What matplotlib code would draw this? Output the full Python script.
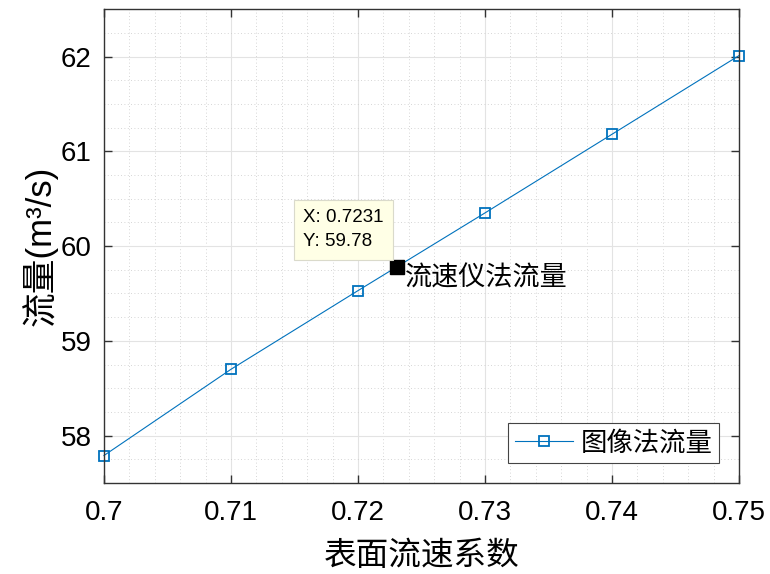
import numpy as np
import matplotlib
matplotlib.use("Agg")
import matplotlib.pyplot as plt
from matplotlib.ticker import MultipleLocator

plt.rcParams['font.family'] = ['Liberation Sans', 'Noto Sans CJK SC', 'DejaVu Sans']

# surface velocity coefficient vs. image-method discharge
coef = [0.70, 0.71, 0.72, 0.73, 0.74, 0.75]
flow = [57.79, 58.70, 59.53, 60.35, 61.18, 62.01]
xtick_labels = ['0.7', '0.71', '0.72', '0.73', '0.74', '0.75']

# current-meter discharge (data tip)
meter_x = 0.7231
meter_y = 59.78

CJK = ['Noto Sans CJK SC', 'DejaVu Sans']

fig = plt.figure(figsize=(7.7, 5.74), dpi=100)
ax = fig.add_axes([0.135, 0.1585, 0.8247, 0.8255])

ax.plot(coef, flow, color='#0072BD', lw=0.8, marker='s', ms=7,
        mfc='none', mec='#0072BD', mew=1.3, label='图像法流量', clip_on=False)

ax.plot([meter_x], [meter_y], marker='s', ms=9.5, color='black', ls='none', zorder=5)
ax.annotate(f"X: {meter_x:.4f}\nY: {meter_y:.2f}", xy=(meter_x, meter_y),
            xytext=(-10, 12), textcoords='offset points', ha='right', va='bottom',
            multialignment='left', fontsize=13.5, linespacing=1.55,
            bbox=dict(boxstyle='square,pad=0.5', fc='#FFFFE6', ec='#DADACB', lw=0.8),
            zorder=6)
ax.annotate('流速仪法流量', xy=(meter_x, meter_y), xytext=(5.5, 2),
            textcoords='offset points', ha='left', va='top',
            fontsize=19.5, family=CJK, zorder=6)

ax.set_xlim(0.70, 0.75)
ax.set_ylim(57.5, 62.5)
ax.xaxis.set_minor_locator(MultipleLocator(0.002))
ax.yaxis.set_major_locator(MultipleLocator(1))
ax.yaxis.set_minor_locator(MultipleLocator(0.25))
ax.set_xticks(coef)
ax.set_xticklabels(xtick_labels)

ax.grid(which='major', color='#E3E3E3', lw=0.8)
ax.grid(which='minor', color='#C8C8C8', lw=0.6, ls=(0, (1, 3)))
ax.set_axisbelow(True)

ax.tick_params(which='both', direction='in', top=True, right=True, labelsize=20,
               color='#333333')
ax.tick_params(axis='x', pad=12)
ax.tick_params(axis='y', pad=9)
ax.tick_params(which='major', length=6, width=1)
ax.tick_params(which='minor', length=0)
for s in ax.spines.values():
    s.set_color('#333333')
    s.set_linewidth(1)

ax.set_xlabel('表面流速系数', fontsize=23.5, family=CJK, labelpad=10)
ax.set_ylabel('流量(m³/s)', fontsize=25, labelpad=2)

leg = ax.legend(loc='lower right', fancybox=False, framealpha=1,
                edgecolor='#444444', handlelength=2.2, handletextpad=0.3,
                borderpad=0.25, borderaxespad=0.75,
                prop={'family': CJK, 'size': 19})
leg.get_frame().set_linewidth(0.8)

fig.savefig('out.png', dpi=100)
